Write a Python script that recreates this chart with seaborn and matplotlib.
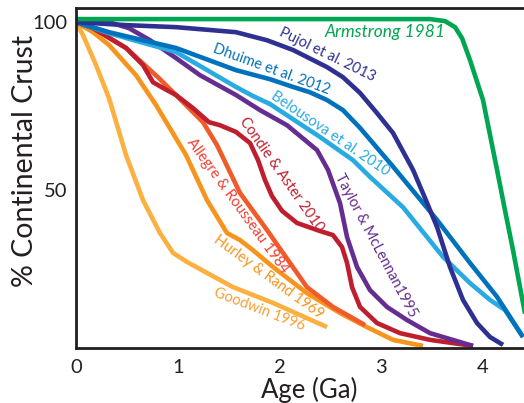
import matplotlib
matplotlib.use("Agg")
import matplotlib.pyplot as plt
import seaborn as sns
import pandas as pd

# ---- data (age in Ga, % continental crust) ----
armstrong_x = [0, 3.481, 3.628, 3.727, 3.796, 3.874, 4.002, 4.140, 4.218, 4.297, 4.395, 4.464]
armstrong_y = [100.9, 100.9, 100.3, 98.5, 95.2, 88.7, 76.8, 56.0, 44.0, 32.1, 16.4, 5.4]

pujol_x = [0, 0.492, 0.983, 1.573, 1.878, 2.134, 2.468, 2.625, 2.793, 2.960, 3.117, 3.314, 3.432, 3.550, 3.677, 3.805, 3.943, 4.071, 4.199]
pujol_y = [100, 99.1, 98.5, 97.0, 94.6, 91.7, 86.6, 83.6, 78.9, 72.9, 67.0, 56.0, 47.6, 39.0, 27.1, 17.3, 10.4, 6.25, 3.9]

dhuime_x = [0, 0.324, 0.983, 1.573, 1.908, 2.134, 2.301, 2.468, 2.625, 2.793, 3.117, 3.550, 3.874, 4.140, 4.395]
dhuime_y = [100, 97.0, 92.3, 85.7, 83.0, 80.7, 79.1, 76.8, 73.8, 68.5, 57.0, 41.1, 28.3, 18.2, 6.25]

belousova_x = [0, 0.324, 0.983, 1.573, 1.740, 1.908, 2.399, 2.724, 2.891, 3.215, 3.609, 3.874, 4.071, 4.218, 4.395]
belousova_y = [100, 96.7, 91.1, 80.7, 78.0, 75.6, 65.8, 58.9, 53.9, 44.9, 30.1, 22.3, 17.3, 14.3, 6.25]

taylor_x = [0, 0.324, 0.521, 0.728, 0.983, 1.219, 1.573, 1.809, 2.075, 2.370, 2.478, 2.596, 2.665, 2.763, 2.891, 3.058, 3.255, 3.481, 3.904]
taylor_y = [100, 100, 98.2, 94.6, 89.3, 84.2, 78.3, 73.8, 69.3, 61.9, 56.0, 46.1, 36.0, 27.1, 20.2, 15.2, 11.3, 7.4, 3.6]

condie_x = [0, 0.167, 0.492, 0.659, 0.757, 0.855, 0.983, 1.150, 1.308, 1.416, 1.573, 1.711, 1.790, 1.858, 1.927, 2.026, 2.173, 2.399, 2.527, 2.616, 2.665, 2.714, 2.793, 2.960, 3.186, 3.481, 3.904]
condie_y = [100, 98.2, 92.3, 87.2, 82.1, 80.4, 78.3, 74.4, 70.2, 69.3, 67.3, 64.0, 58.9, 53.0, 48.2, 43.8, 40.2, 37.8, 36.6, 33.0, 28.3, 21.1, 15.2, 10.4, 7.4, 5.4, 3.6]

allegre_x = [0, 0.167, 0.492, 0.816, 1.111, 1.249, 1.386, 1.613, 1.878, 2.104, 2.271, 2.527, 2.842]
allegre_y = [100, 98.2, 92.3, 83.3, 74.4, 70.2, 63.4, 49.1, 38.1, 28.3, 21.1, 15.2, 9.8]

hurley_x = [0, 0.167, 0.324, 0.590, 0.787, 1.082, 1.288, 1.485, 1.613, 1.740, 1.937, 2.271, 2.596, 2.861, 3.117, 3.412]
hurley_y = [100, 97.0, 93.2, 84.2, 75.3, 60.4, 47.0, 37.2, 35.1, 32.1, 27.1, 19.3, 13.4, 9.2, 5.4, 3.6]

goodwin_x = [0, 0.069, 0.197, 0.324, 0.492, 0.659, 0.826, 0.954, 1.091, 1.544, 1.937, 2.468]
goodwin_y = [100, 96.1, 87.2, 77.4, 60.4, 47.0, 37.2, 31.3, 28.6, 21.1, 16.4, 9.2]

models = ["Goodwin 1996", "Hurley & Rand 1969", "Allegre & Rousseau 1984",
          "Condie & Aster 2010", "Taylor & McLennan1995", "Belousova et al. 2010",
          "Dhuime et al. 2012", "Pujol et al. 2013", "Armstrong 1981"]
series = [(goodwin_x, goodwin_y), (hurley_x, hurley_y), (allegre_x, allegre_y),
          (condie_x, condie_y), (taylor_x, taylor_y), (belousova_x, belousova_y),
          (dhuime_x, dhuime_y), (pujol_x, pujol_y), (armstrong_x, armstrong_y)]

line_colors = ["#FBB040", "#F7941D", "#F15A29", "#BE1E2D", "#662D91",
               "#29ABE2", "#0072BC", "#2E3192", "#00A651"]
text_colors = ["#F7A035", "#F7941D", "#EF4136", "#BE1E2D", "#662D91",
               "#29ABE2", "#0072BC", "#2E3192", "#00A651"]

# label placement (x, y in data units, rotation in degrees)
label_x = [1.80, 1.888, 1.585, 2.016, 2.95, 2.50, 1.922, 2.468, 3.04]
label_y = [14.3, 24.1, 45.2, 54.5, 33.6, 66.8, 85.9, 90.2, 97.2]
label_rot = [-21, -36, -54, -55, -62, -34, -20, -26, 0]
label_size = [10.5, 10.5, 10.5, 10.5, 10.5, 10.5, 10.5, 10.5, 12.5]

frames = []
for name, (xs, ys) in zip(models, series):
    frames.append(pd.DataFrame({"age": xs, "crust": ys, "model": name}))
df = pd.concat(frames, ignore_index=True)

sns.set_style("white")
plt.rcParams["font.family"] = ["Lato", "DejaVu Sans"]

fig = plt.figure(figsize=(5.24, 4.03), dpi=100)
ax = fig.add_axes([76 / 524, 55 / 403, 448 / 524, 340 / 403])

sns.lineplot(data=df, x="age", y="crust", hue="model", hue_order=models,
             palette=dict(zip(models, line_colors)), sort=False, estimator=None,
             linewidth=3.3, legend=False, ax=ax)
for ln in ax.lines:
    ln.set_solid_capstyle("butt")
    ln.set_solid_joinstyle("round")

for name, c, lx, ly, rot, fs in zip(models, text_colors, label_x, label_y, label_rot, label_size):
    ax.text(lx, ly, name, color=c, fontsize=fs, rotation=rot,
            rotation_mode="anchor", ha="center", va="center",
            style="italic" if name.startswith("Armstrong") else "normal")

ax.set_xlim(0, 4.405)
ax.set_ylim(2.98, 104.2)
ax.set_xticks([0, 1, 2, 3, 4])
ax.set_yticks([50, 100])
ax.tick_params(direction="in", length=6, width=1.6, colors="#231F20",
               labelsize=14.5, labelcolor="#231F20")
ax.tick_params(axis="x", pad=8)
ax.tick_params(axis="y", pad=6)

for side in ["left", "bottom", "top"]:
    ax.spines[side].set_linewidth(2.0)
    ax.spines[side].set_color("#231F20")
ax.spines["right"].set_visible(False)

ax.set_xlabel("Age (Ga)", fontsize=18.5, color="#231F20")
ax.set_ylabel("% Continental Crust", fontsize=20.5, color="#231F20")
ax.xaxis.set_label_coords(0.52, -0.085)
ax.yaxis.set_label_coords(-0.085, 0.55)

fig.savefig("out.png", dpi=100)
